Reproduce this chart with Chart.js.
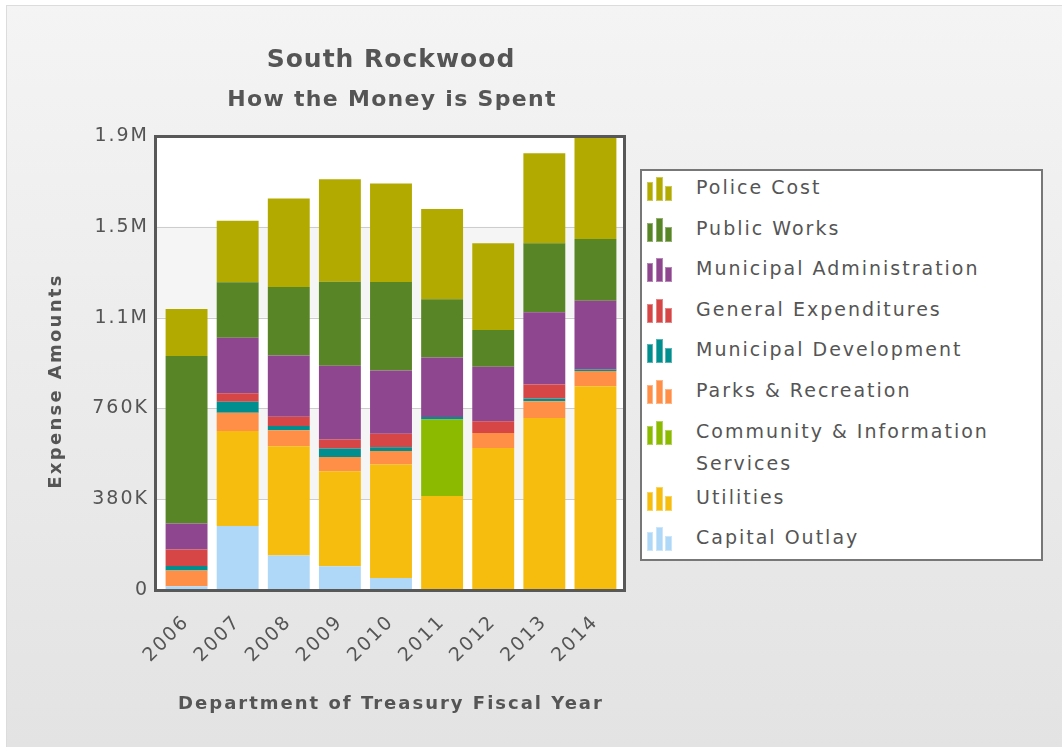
<!DOCTYPE html>
<html>
<head>
<meta charset="utf-8">
<script src="https://cdn.jsdelivr.net/npm/chart.js@4.4.1/dist/chart.umd.min.js"></script>
<style>
  html, body { margin: 0; padding: 0; background: #fff; }
  #wrap { position: relative; width: 1062px; height: 747px; overflow: hidden; }
  #bg { position: absolute; left: 6px; top: 5px; right: 0; bottom: 0;
        border-top: 1px solid #dcdcdc; border-left: 1px solid #dcdcdc;
        background: linear-gradient(to bottom, #f4f4f4, #e3e3e3); }
  #myChart { position: absolute; left: 0; top: 0; }
  #legend { position: absolute; left: 640px; top: 169px; width: 399px; height: 388px;
            border: 2px solid #777; background: #fff; box-sizing: content-box; }
  #legend ul { list-style: none; margin: 0; padding: 0; }
  #legend li { position: relative; padding-left: 54px; margin-bottom: 8.6px; width: 330px;
               font: 19px "DejaVu Sans"; letter-spacing: 2px; line-height: 32px; color: #555; }
  #legend .icon { position: absolute; left: 5px; top: 5px; width: 26px; height: 25px; }
  #legend .icon span { position: absolute; bottom: 0; box-sizing: border-box; }
</style>
</head>
<body>
<div id="wrap">
  <div id="bg"></div>
  <canvas id="myChart" width="1062" height="747"></canvas>
  <div id="legend"><ul></ul></div>
</div>
<script>
let years = ["2006", "2007", "2008", "2009", "2010", "2011", "2012", "2013", "2014"]
let yTickLabels = ["0", "380K", "760K", "1.1M", "1.5M", "1.9M"]

// bottom of the stack first
let capitalOutlay  = [16000, 268000, 144000, 99000, 50000, 0, 0, 0, 0]
let utilities      = [0, 397000, 458000, 398000, 475000, 393000, 594000, 720000, 853000]
let communityInfo  = [0, 0, 0, 0, 0, 321000, 0, 0, 0]
let parksRec       = [66000, 77000, 67000, 60000, 57000, 0, 63000, 70000, 63000]
let municipalDev   = [18000, 46000, 17000, 35000, 15000, 10000, 0, 11000, 7000]
let generalExp     = [69000, 35000, 39000, 38000, 57000, 0, 49000, 59000, 0]
let municipalAdmin = [109000, 233000, 256000, 308000, 265000, 249000, 228000, 302000, 287000]
let publicWorks    = [701000, 232000, 287000, 352000, 370000, 244000, 154000, 289000, 259000]
let policeCost     = [197000, 257000, 370000, 429000, 412000, 377000, 363000, 377000, 440000]

let seriesNames = ["Capital Outlay", "Utilities", "Community & Information Services", "Parks & Recreation",
  "Municipal Development", "General Expenditures", "Municipal Administration", "Public Works", "Police Cost"]
let seriesData = [capitalOutlay, utilities, communityInfo, parksRec, municipalDev, generalExp,
  municipalAdmin, publicWorks, policeCost]
let seriesColors = ["#AFD8F8", "#F6BD0F", "#8BBA00", "#FF8E46", "#008E8E", "#D64646", "#8E468E", "#588526", "#B3AA00"]

let textColor = "#555"

let plotFrame = {
  id: "plotFrame",
  beforeDraw(chart) {
    let ctx = chart.ctx
    ctx.letterSpacing = "2px"
    let y = chart.scales.y
    let left = 156, right = 624
    ctx.save()
    ctx.fillStyle = "#fff"
    ctx.fillRect(left, chart.chartArea.top, right - left, chart.chartArea.bottom - chart.chartArea.top)
    let ticks = y.ticks
    for (let i = 1; i < ticks.length - 1; i += 2) {
      let y1 = y.getPixelForValue(ticks[i].value)
      let y2 = y.getPixelForValue(ticks[i + 1].value)
      ctx.fillStyle = "#f5f5f5"
      ctx.fillRect(left, y2, right - left, y1 - y2)
    }
    ctx.strokeStyle = "#cdcdcd"
    ctx.lineWidth = 1
    ticks.forEach((t) => {
      let py = Math.round(y.getPixelForValue(t.value)) + 0.5
      ctx.beginPath()
      ctx.moveTo(left, py)
      ctx.lineTo(right, py)
      ctx.stroke()
    })
    ctx.restore()
  },
  afterDatasetsDraw(chart) {
    let ctx = chart.ctx
    ctx.save()
    ctx.strokeStyle = "#585858"
    ctx.lineWidth = 3
    ctx.strokeRect(155.5, 136.5, 469, 454)
    ctx.restore()
  },
  afterDraw(chart) {
    let ctx = chart.ctx
    ctx.save()
    ctx.fillStyle = textColor
    ctx.textAlign = "center"
    ctx.textBaseline = "alphabetic"
    ctx.font = "bold 25px 'DejaVu Sans'"
    ctx.letterSpacing = "1px"
    ctx.fillText("South Rockwood", 391, 67)
    ctx.font = "bold 22px 'DejaVu Sans'"
    ctx.letterSpacing = "1.3px"
    ctx.fillText("How the Money is Spent", 392, 106)
    ctx.translate(61, 381)
    ctx.rotate(-Math.PI / 2)
    ctx.font = "bold 18px 'DejaVu Sans'"
    ctx.letterSpacing = "2.3px"
    ctx.fillText("Expense Amounts", 0, 0)
    ctx.restore()
  }
}

let ctx = document.getElementById("myChart")
let myChart = new Chart(ctx, {
  type: "bar",
  data: {
    labels: years,
    datasets: seriesNames.map((name, i) => ({
      label: name,
      data: seriesData[i],
      backgroundColor: seriesColors[i],
      borderWidth: 0,
      categoryPercentage: 1,
      barPercentage: 0.82
    }))
  },
  options: {
    responsive: false,
    animation: false,
    layout: { padding: { top: 136, right: 441, bottom: 0, left: 0 } },
    plugins: { legend: { display: false }, tooltip: { enabled: false } },
    scales: {
      x: {
        stacked: true,
        grid: { display: false },
        border: { display: false },
        ticks: {
          color: textColor,
          font: { family: "DejaVu Sans", size: 19 },
          minRotation: 45,
          maxRotation: 45,
          autoSkip: false,
          padding: 13
        },
        title: {
          display: true,
          text: "Department of Treasury Fiscal Year",
          color: textColor,
          font: { family: "DejaVu Sans", size: 18, weight: "bold" },
          padding: { top: 0, bottom: 32 }
        },
        afterFit: (scale) => { scale.height = 157 }
      },
      y: {
        stacked: true,
        min: 0,
        max: 1900000,
        grid: { display: false, drawTicks: false },
        border: { display: false },
        ticks: {
          stepSize: 380000,
          color: textColor,
          font: { family: "DejaVu Sans", size: 19 },
          padding: 12,
          callback: (value, index) => yTickLabels[index]
        },
        afterFit: (scale) => { scale.width = 161 }
      }
    }
  },
  plugins: [plotFrame]
})

// legend, top of the stack first
let list = document.querySelector("#legend ul")
for (let i = seriesNames.length - 1; i >= 0; i--) {
  let li = document.createElement("li")
  let icon = document.createElement("div")
  icon.className = "icon"
  let bars = [[0, 6, 19], [9, 7, 24], [18, 7, 15]]
  bars.forEach((b) => {
    let s = document.createElement("span")
    s.style.left = b[0] + "px"
    s.style.width = b[1] + "px"
    s.style.height = b[2] + "px"
    s.style.background = seriesColors[i]
    s.style.border = "1px solid rgba(255,255,255,0.35)"
    icon.appendChild(s)
  })
  li.appendChild(icon)
  li.appendChild(document.createTextNode(seriesNames[i]))
  list.appendChild(li)
  if (li.clientHeight > 40) li.style.marginBottom = "2px"
}
</script>
</body>
</html>
